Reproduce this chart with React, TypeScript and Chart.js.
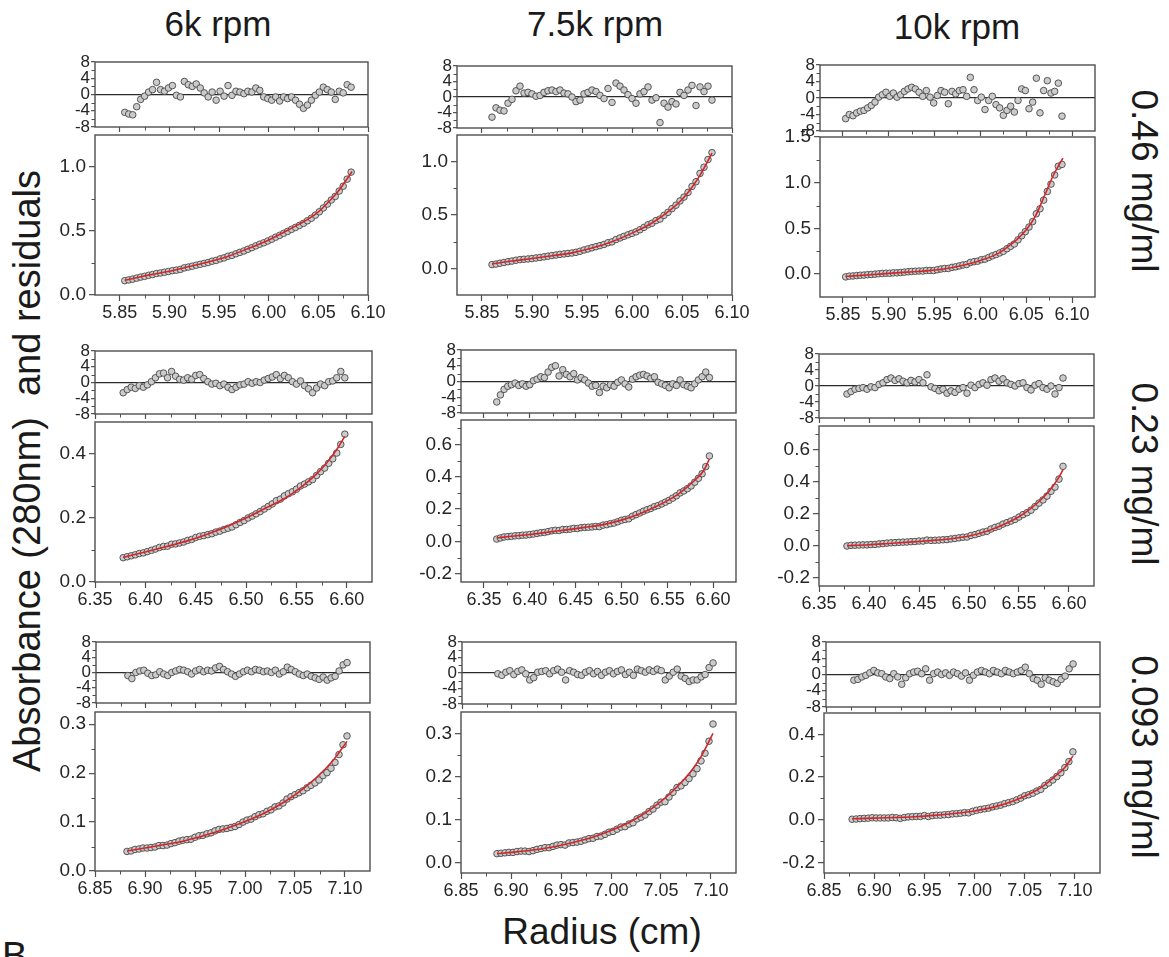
import React, { useEffect, useRef } from "react";
import { Chart, registerables } from "chart.js";

Chart.register(...registerables);

const FONT = '"Liberation Sans", Arial, Helvetica, sans-serif';

// ---------- tick labels ----------
const X_TICKS_ROW1 = [5.85, 5.9, 5.95, 6.0, 6.05, 6.1];
const X_MINOR_ROW1 = [5.875, 5.925, 5.975, 6.025, 6.075];
const X_TICKS_ROW2 = [6.35, 6.4, 6.45, 6.5, 6.55, 6.6];
const X_MINOR_ROW2 = [6.375, 6.425, 6.475, 6.525, 6.575];
const X_TICKS_ROW3 = [6.85, 6.9, 6.95, 7.0, 7.05, 7.1];
const X_MINOR_ROW3 = [6.875, 6.925, 6.975, 7.025, 7.075];
const RESID_TICKS = [-8, -4, 0, 4, 8];
const RESID_MINOR = [-6, -2, 2, 6];

const COLUMN_TITLES = ["6k rpm", "7.5k rpm", "10k rpm"];
const ROW_LABELS = ["0.46 mg/ml", "0.23 mg/ml", "0.093 mg/ml"];

// ---------- row 1 (0.46 mg/ml) ----------
const R1C1_RADIUS = [5.855, 5.859, 5.863, 5.867, 5.871, 5.875, 5.879, 5.883, 5.887, 5.891, 5.895, 5.899, 5.903, 5.907, 5.911, 5.915, 5.919, 5.923, 5.927, 5.931, 5.935, 5.939, 5.943, 5.947, 5.951, 5.955, 5.959, 5.963, 5.967, 5.971, 5.975, 5.979, 5.983, 5.987, 5.991, 5.995, 5.999, 6.003, 6.007, 6.011, 6.015, 6.019, 6.023, 6.027, 6.031, 6.035, 6.039, 6.043, 6.047, 6.051, 6.055, 6.059, 6.063, 6.067, 6.071, 6.075, 6.079, 6.083];
const R1C1_ABS = [0.112, 0.118, 0.124, 0.132, 0.14, 0.146, 0.154, 0.16, 0.168, 0.172, 0.178, 0.184, 0.19, 0.194, 0.2, 0.212, 0.218, 0.225, 0.233, 0.24, 0.247, 0.254, 0.264, 0.27, 0.282, 0.29, 0.303, 0.31, 0.322, 0.333, 0.344, 0.357, 0.37, 0.384, 0.397, 0.408, 0.422, 0.436, 0.452, 0.466, 0.482, 0.497, 0.513, 0.528, 0.544, 0.56, 0.58, 0.6, 0.624, 0.65, 0.68, 0.71, 0.742, 0.77, 0.812, 0.85, 0.905, 0.96];
const R1C1_RESID = [-4.4, -4.8, -5.0, -3.0, -1.2, -0.4, 0.6, 1.2, 3.0, 1.2, 0.8, 1.6, 2.2, -0.2, -0.6, 3.2, 2.4, 2.0, 2.6, 1.6, 0.4, -0.6, 0.6, -1.4, 0.8, -0.4, 2.2, -0.2, 0.8, 0.6, 0.2, 0.8, 0.6, 1.6, 1.0, -0.6, -1.0, -1.4, -0.6, -1.6, -0.6, -1.0, -0.6, -1.4, -2.4, -3.4, -2.6, -1.4, -0.2, 0.6, 1.8, 1.2, 0.6, -1.2, 0.8, 0.4, 2.4, 1.8];
const R1C1_FIT_RADIUS = [5.855, 5.87, 5.88, 5.9, 5.92, 5.94, 5.96, 5.98, 6.0, 6.02, 6.04, 6.05, 6.06, 6.07, 6.084];
const R1C1_FIT_ABS = [0.115, 0.14, 0.157, 0.185, 0.222, 0.26, 0.305, 0.365, 0.43, 0.51, 0.595, 0.65, 0.725, 0.81, 0.965];

const R1C2_RADIUS = [5.86, 5.864, 5.868, 5.872, 5.876, 5.88, 5.884, 5.888, 5.892, 5.896, 5.9, 5.904, 5.908, 5.912, 5.916, 5.92, 5.924, 5.928, 5.932, 5.936, 5.94, 5.944, 5.948, 5.952, 5.956, 5.96, 5.964, 5.968, 5.972, 5.976, 5.98, 5.984, 5.988, 5.992, 5.996, 6.0, 6.004, 6.008, 6.012, 6.016, 6.02, 6.024, 6.028, 6.032, 6.036, 6.04, 6.044, 6.048, 6.052, 6.056, 6.06, 6.064, 6.068, 6.072, 6.076, 6.08];
const R1C2_ABS = [0.035, 0.04, 0.048, 0.055, 0.062, 0.068, 0.076, 0.082, 0.085, 0.088, 0.092, 0.097, 0.102, 0.108, 0.114, 0.12, 0.125, 0.131, 0.135, 0.14, 0.144, 0.15, 0.16, 0.172, 0.182, 0.193, 0.203, 0.213, 0.224, 0.24, 0.248, 0.27, 0.285, 0.3, 0.314, 0.328, 0.342, 0.362, 0.384, 0.408, 0.423, 0.448, 0.462, 0.497, 0.525, 0.56, 0.592, 0.632, 0.668, 0.712, 0.768, 0.812, 0.89, 0.948, 1.02, 1.085];
const R1C2_RESID = [-5.2, -2.8, -3.4, -3.6, -1.6, -0.6, 1.6, 2.8, 1.0, 1.2, 0.8, 0.2, 0.4, 1.2, 1.6, 1.8, 1.4, 1.8, 1.0, 0.8, 0.0, -1.2, -0.8, 0.8, 1.2, 1.8, 1.4, 0.4, -0.4, 2.2, -1.4, 3.6, 2.8, 1.8, 0.6, -0.4, -1.6, 0.8, 1.4, 2.6, -0.8, -0.2, -6.6, -1.6, -2.6, -1.2, -1.8, 1.2, 0.4, 1.8, 3.0, -2.2, 2.6, 1.4, 2.8, -0.8];
const R1C2_FIT_RADIUS = [5.86, 5.88, 5.9, 5.92, 5.94, 5.96, 5.98, 6.0, 6.02, 6.04, 6.05, 6.06, 6.07, 6.08];
const R1C2_FIT_ABS = [0.04, 0.068, 0.092, 0.118, 0.145, 0.19, 0.25, 0.33, 0.425, 0.56, 0.645, 0.76, 0.905, 1.08];

const R1C3_RADIUS = [5.853, 5.857, 5.861, 5.865, 5.869, 5.873, 5.877, 5.881, 5.885, 5.889, 5.893, 5.897, 5.901, 5.905, 5.909, 5.913, 5.917, 5.921, 5.925, 5.929, 5.933, 5.937, 5.941, 5.945, 5.949, 5.953, 5.957, 5.961, 5.965, 5.969, 5.973, 5.977, 5.981, 5.985, 5.989, 5.993, 5.997, 6.001, 6.005, 6.009, 6.013, 6.017, 6.021, 6.025, 6.029, 6.033, 6.037, 6.041, 6.045, 6.049, 6.053, 6.057, 6.061, 6.065, 6.069, 6.073, 6.077, 6.081, 6.085, 6.089];
const R1C3_ABS = [-0.03, -0.022, -0.02, -0.016, -0.012, -0.01, -0.006, -0.004, 0.0, 0.004, 0.008, 0.01, 0.01, 0.014, 0.014, 0.018, 0.022, 0.026, 0.03, 0.032, 0.034, 0.034, 0.04, 0.04, 0.04, 0.048, 0.056, 0.062, 0.062, 0.074, 0.08, 0.09, 0.1, 0.106, 0.128, 0.136, 0.142, 0.158, 0.164, 0.182, 0.2, 0.214, 0.232, 0.25, 0.278, 0.305, 0.33, 0.375, 0.42, 0.465, 0.515, 0.575, 0.66, 0.715, 0.81, 0.905, 0.985, 1.085, 1.18, 1.2];
const R1C3_RESID = [-5.0, -4.0, -4.3, -3.6, -3.2, -3.0, -2.4, -1.8, -1.0, 0.2, 0.8, 1.4, 0.4, 1.2, 0.2, 0.8, 1.6, 2.2, 2.6, 2.2, 1.4, 0.4, 1.8, 0.2, -1.2, 0.6, 1.8, 1.4, -1.4, 1.6, 1.0, 1.8, 2.0, 0.4, 5.0, 2.0, -0.6, 0.2, -2.8, -0.6, 0.4, -1.6, -2.4, -4.2, -3.0, -2.0, -3.4, -0.6, 2.2, 1.8, -2.6, -1.0, 4.8, -3.6, 1.8, 4.2, 1.2, 1.6, 3.6, -4.4];
const R1C3_FIT_RADIUS = [5.853, 5.88, 5.9, 5.92, 5.94, 5.96, 5.98, 6.0, 6.02, 6.03, 6.04, 6.05, 6.06, 6.07, 6.08, 6.09];
const R1C3_FIT_ABS = [-0.025, -0.006, 0.008, 0.022, 0.036, 0.056, 0.095, 0.15, 0.23, 0.3, 0.38, 0.485, 0.635, 0.86, 1.09, 1.27];

// ---------- row 2 (0.23 mg/ml) ----------
const R2C1_RADIUS = [6.378, 6.382, 6.386, 6.39, 6.394, 6.398, 6.402, 6.406, 6.41, 6.414, 6.418, 6.422, 6.426, 6.43, 6.434, 6.438, 6.442, 6.446, 6.45, 6.454, 6.458, 6.462, 6.466, 6.47, 6.474, 6.478, 6.482, 6.486, 6.49, 6.494, 6.498, 6.502, 6.506, 6.51, 6.514, 6.518, 6.522, 6.526, 6.53, 6.534, 6.538, 6.542, 6.546, 6.55, 6.554, 6.558, 6.562, 6.566, 6.57, 6.574, 6.578, 6.582, 6.586, 6.59, 6.594, 6.598];
const R2C1_ABS = [0.076, 0.079, 0.082, 0.085, 0.089, 0.091, 0.095, 0.099, 0.103, 0.108, 0.111, 0.112, 0.118, 0.119, 0.122, 0.125, 0.13, 0.133, 0.139, 0.143, 0.145, 0.148, 0.151, 0.156, 0.159, 0.164, 0.168, 0.172, 0.179, 0.186, 0.192, 0.2, 0.206, 0.213, 0.22, 0.228, 0.236, 0.244, 0.254, 0.259, 0.269, 0.276, 0.282, 0.29, 0.3, 0.306, 0.313, 0.32, 0.333, 0.345, 0.356, 0.371, 0.385, 0.403, 0.43, 0.462];
const R2C1_RESID = [-2.6, -1.8, -1.2, -1.5, -0.8, -1.2, -0.6, 0.2, 1.2, 2.2, 2.4, 1.2, 2.8, 1.6, 0.8, 0.6, 1.2, 0.8, 1.8, 2.0, 1.0, 0.2, -0.4, -0.2, -0.8, -0.4, -1.2, -1.8, -1.2, -0.6, -0.4, 0.2, -0.2, 0.2, 0.0, 0.6, 1.0, 1.4, 2.0, 1.0, 1.8, 1.2, 0.2, -0.4, 0.4, -0.8, -1.6, -2.6, -1.4, -0.4, -0.8, 0.2, 0.4, 1.2, 2.8, 1.2];
const R2C1_FIT_RADIUS = [6.378, 6.4, 6.42, 6.44, 6.46, 6.48, 6.5, 6.52, 6.54, 6.55, 6.56, 6.57, 6.58, 6.59, 6.598];
const R2C1_FIT_ABS = [0.077, 0.094, 0.11, 0.127, 0.148, 0.172, 0.2, 0.232, 0.264, 0.286, 0.31, 0.338, 0.372, 0.414, 0.455];

const R2C2_RADIUS = [6.364, 6.368, 6.372, 6.376, 6.38, 6.384, 6.388, 6.392, 6.396, 6.4, 6.404, 6.408, 6.412, 6.416, 6.42, 6.424, 6.428, 6.432, 6.436, 6.44, 6.444, 6.448, 6.452, 6.456, 6.46, 6.464, 6.468, 6.472, 6.476, 6.48, 6.484, 6.488, 6.492, 6.496, 6.5, 6.504, 6.508, 6.512, 6.516, 6.52, 6.524, 6.528, 6.532, 6.536, 6.54, 6.544, 6.548, 6.552, 6.556, 6.56, 6.564, 6.568, 6.572, 6.576, 6.58, 6.584, 6.588, 6.592, 6.596];
const R2C2_ABS = [0.015, 0.022, 0.028, 0.03, 0.032, 0.035, 0.036, 0.039, 0.04, 0.043, 0.046, 0.05, 0.054, 0.056, 0.061, 0.066, 0.069, 0.068, 0.074, 0.074, 0.076, 0.081, 0.08, 0.085, 0.087, 0.088, 0.09, 0.093, 0.092, 0.101, 0.104, 0.11, 0.114, 0.122, 0.131, 0.136, 0.14, 0.156, 0.166, 0.176, 0.187, 0.196, 0.204, 0.215, 0.222, 0.232, 0.243, 0.254, 0.268, 0.282, 0.3, 0.312, 0.326, 0.343, 0.366, 0.39, 0.418, 0.462, 0.528];
const R2C2_RESID = [-5.2, -3.4, -2.0, -1.2, -0.8, -0.4, -1.0, -0.6, -1.2, -0.8, 0.2, 0.6, 1.2, 1.0, 2.4, 3.6, 4.0, 1.4, 3.0, 1.8, 1.2, 2.0, 0.4, 1.0, 0.4, -0.4, -1.2, -1.0, -2.8, -1.2, -1.6, -0.8, -1.2, -0.2, 0.4, -0.6, -1.4, 0.6, 1.2, 1.6, 1.8, 1.4, 0.8, 1.2, -0.2, -0.6, -1.0, -1.6, -0.6, -1.0, 0.4, -0.8, -1.2, -1.6, -0.6, 0.4, 1.2, 2.4, 1.0];
const R2C2_FIT_RADIUS = [6.364, 6.38, 6.4, 6.42, 6.44, 6.46, 6.48, 6.5, 6.52, 6.54, 6.56, 6.57, 6.58, 6.59, 6.596];
const R2C2_FIT_ABS = [0.022, 0.032, 0.043, 0.058, 0.072, 0.087, 0.104, 0.132, 0.172, 0.222, 0.285, 0.328, 0.378, 0.44, 0.51];

const R2C3_RADIUS = [6.378, 6.382, 6.386, 6.39, 6.394, 6.398, 6.402, 6.406, 6.41, 6.414, 6.418, 6.422, 6.426, 6.43, 6.434, 6.438, 6.442, 6.446, 6.45, 6.454, 6.458, 6.462, 6.466, 6.47, 6.474, 6.478, 6.482, 6.486, 6.49, 6.494, 6.498, 6.502, 6.506, 6.51, 6.514, 6.518, 6.522, 6.526, 6.53, 6.534, 6.538, 6.542, 6.546, 6.55, 6.554, 6.558, 6.562, 6.566, 6.57, 6.574, 6.578, 6.582, 6.586, 6.59, 6.594];
const R2C3_ABS = [0.0, 0.004, 0.005, 0.006, 0.007, 0.007, 0.009, 0.01, 0.013, 0.015, 0.018, 0.02, 0.021, 0.023, 0.024, 0.025, 0.027, 0.028, 0.031, 0.031, 0.037, 0.035, 0.036, 0.037, 0.039, 0.04, 0.044, 0.047, 0.051, 0.055, 0.056, 0.066, 0.071, 0.079, 0.087, 0.092, 0.106, 0.116, 0.124, 0.137, 0.146, 0.156, 0.166, 0.181, 0.196, 0.208, 0.224, 0.246, 0.268, 0.288, 0.312, 0.342, 0.368, 0.418, 0.498];
const R2C3_RESID = [-2.0, -1.4, -0.8, -0.6, -0.4, -0.8, -0.2, -0.4, 0.4, 0.8, 1.6, 2.0, 1.4, 1.8, 1.2, 0.8, 1.4, 1.0, 1.6, 0.8, 2.8, -0.2, -0.6, -1.2, -0.8, -1.8, -1.2, -1.6, -0.8, -0.4, -1.8, 0.2, -0.4, 0.4, 0.8, 0.2, 1.6, 2.0, 1.2, 1.8, 0.8, 0.4, 0.0, 0.6, 0.8, -0.4, -1.0, 0.2, 0.6, -0.4, -0.8, 0.0, -2.0, -0.4, 2.0];
const R2C3_FIT_RADIUS = [6.378, 6.4, 6.42, 6.44, 6.46, 6.48, 6.5, 6.52, 6.54, 6.55, 6.56, 6.57, 6.58, 6.59, 6.594];
const R2C3_FIT_ABS = [0.002, 0.008, 0.016, 0.024, 0.033, 0.044, 0.062, 0.097, 0.15, 0.183, 0.226, 0.278, 0.342, 0.43, 0.478];

// ---------- row 3 (0.093 mg/ml) ----------
const R3C1_RADIUS = [6.882, 6.886, 6.89, 6.894, 6.898, 6.902, 6.906, 6.91, 6.914, 6.918, 6.922, 6.926, 6.93, 6.934, 6.938, 6.942, 6.946, 6.95, 6.954, 6.958, 6.962, 6.966, 6.97, 6.974, 6.978, 6.982, 6.986, 6.99, 6.994, 6.998, 7.002, 7.006, 7.01, 7.014, 7.018, 7.022, 7.026, 7.03, 7.034, 7.038, 7.042, 7.046, 7.05, 7.054, 7.058, 7.062, 7.066, 7.07, 7.074, 7.078, 7.082, 7.086, 7.09, 7.094, 7.098, 7.102];
const R3C1_ABS = [0.04, 0.041, 0.044, 0.045, 0.047, 0.047, 0.048, 0.049, 0.052, 0.052, 0.053, 0.056, 0.058, 0.061, 0.063, 0.064, 0.065, 0.069, 0.072, 0.073, 0.076, 0.078, 0.082, 0.085, 0.086, 0.087, 0.089, 0.091, 0.095, 0.1, 0.104, 0.106, 0.111, 0.115, 0.117, 0.122, 0.125, 0.131, 0.133, 0.139, 0.147, 0.152, 0.156, 0.16, 0.164, 0.17, 0.175, 0.18, 0.186, 0.195, 0.201, 0.21, 0.222, 0.238, 0.258, 0.276];
const R3C1_RESID = [-0.8, -1.6, 0.0, 0.4, 0.6, -0.2, -0.8, -0.6, 0.2, -0.4, -0.8, 0.0, 0.4, 0.8, 0.6, 0.2, -0.4, 0.4, 0.8, 0.2, 0.6, 0.4, 1.2, 1.6, 0.8, 0.2, -0.4, -1.0, -0.4, 0.2, 0.6, 0.2, 0.8, 0.6, 0.2, 0.4, 0.0, 0.6, -0.4, 0.2, 1.4, 0.8, 0.2, -0.4, -0.8, -0.4, -1.0, -1.4, -1.8, -1.2, -2.0, -1.4, -1.0, 0.4, 2.0, 2.6];
const R3C1_FIT_RADIUS = [6.882, 6.9, 6.92, 6.94, 6.96, 6.98, 7.0, 7.02, 7.04, 7.06, 7.08, 7.09, 7.102];
const R3C1_FIT_ABS = [0.041, 0.047, 0.054, 0.062, 0.073, 0.086, 0.101, 0.119, 0.142, 0.171, 0.208, 0.231, 0.265];

const R3C2_RADIUS = [6.886, 6.89, 6.894, 6.898, 6.902, 6.906, 6.91, 6.914, 6.918, 6.922, 6.926, 6.93, 6.934, 6.938, 6.942, 6.946, 6.95, 6.954, 6.958, 6.962, 6.966, 6.97, 6.974, 6.978, 6.982, 6.986, 6.99, 6.994, 6.998, 7.002, 7.006, 7.01, 7.014, 7.018, 7.022, 7.026, 7.03, 7.034, 7.038, 7.042, 7.046, 7.05, 7.054, 7.058, 7.062, 7.066, 7.07, 7.074, 7.078, 7.082, 7.086, 7.09, 7.094, 7.098, 7.102];
const R3C2_ABS = [0.02, 0.021, 0.022, 0.023, 0.023, 0.025, 0.026, 0.026, 0.025, 0.027, 0.03, 0.032, 0.034, 0.034, 0.037, 0.04, 0.041, 0.04, 0.045, 0.046, 0.047, 0.049, 0.052, 0.055, 0.056, 0.06, 0.061, 0.065, 0.07, 0.072, 0.077, 0.082, 0.083, 0.089, 0.092, 0.101, 0.105, 0.11, 0.118, 0.124, 0.133, 0.14, 0.141, 0.152, 0.163, 0.174, 0.178, 0.186, 0.195, 0.206, 0.218, 0.236, 0.254, 0.282, 0.322];
const R3C2_RESID = [-0.2, -0.6, 0.2, 0.6, -0.4, 0.4, 0.8, -0.2, -1.8, -1.2, 0.2, 0.4, 0.6, -0.2, 0.6, 1.0, 0.2, -1.8, 0.6, 0.2, -0.4, -0.6, 0.2, 0.6, -0.2, 0.4, -0.6, 0.2, 0.6, -0.2, 0.4, 0.8, -0.4, 0.2, -0.6, 1.0, 0.6, 0.2, 0.8, 0.4, 1.0, 0.6, -1.8, -0.8, 0.2, 1.0, -0.8, -1.4, -2.2, -1.8, -1.8, -1.0, -0.4, 1.4, 2.6];
const R3C2_FIT_RADIUS = [6.886, 6.9, 6.92, 6.94, 6.96, 6.98, 7.0, 7.02, 7.04, 7.06, 7.08, 7.09, 7.102];
const R3C2_FIT_ABS = [0.02, 0.023, 0.028, 0.035, 0.045, 0.057, 0.074, 0.095, 0.124, 0.162, 0.212, 0.246, 0.3];

const R3C3_RADIUS = [6.878, 6.882, 6.886, 6.89, 6.894, 6.898, 6.902, 6.906, 6.91, 6.914, 6.918, 6.922, 6.926, 6.93, 6.934, 6.938, 6.942, 6.946, 6.95, 6.954, 6.958, 6.962, 6.966, 6.97, 6.974, 6.978, 6.982, 6.986, 6.99, 6.994, 6.998, 7.002, 7.006, 7.01, 7.014, 7.018, 7.022, 7.026, 7.03, 7.034, 7.038, 7.042, 7.046, 7.05, 7.054, 7.058, 7.062, 7.066, 7.07, 7.074, 7.078, 7.082, 7.086, 7.09, 7.094, 7.098];
const R3C3_ABS = [0.002, 0.003, 0.005, 0.006, 0.007, 0.009, 0.008, 0.008, 0.008, 0.008, 0.01, 0.009, 0.006, 0.01, 0.013, 0.014, 0.015, 0.015, 0.019, 0.015, 0.019, 0.021, 0.021, 0.023, 0.024, 0.027, 0.028, 0.03, 0.033, 0.032, 0.039, 0.044, 0.048, 0.051, 0.054, 0.06, 0.064, 0.068, 0.075, 0.08, 0.085, 0.093, 0.101, 0.112, 0.117, 0.124, 0.134, 0.142, 0.16, 0.172, 0.186, 0.202, 0.22, 0.244, 0.272, 0.318];
const R3C3_RESID = [-1.4, -1.2, -0.6, -0.2, 0.4, 1.0, 0.4, 0.2, -0.6, -1.0, 0.2, -0.6, -2.4, -0.8, 0.2, 0.6, 0.8, 0.2, 1.4, -1.4, 0.2, 0.6, 0.0, 0.4, -0.2, 0.6, 0.2, -0.4, 0.4, -1.4, -0.2, 0.6, 1.0, 0.6, 0.2, 1.0, 0.6, 0.2, 1.0, 0.6, 0.2, 0.6, 1.0, 1.8, 0.2, -1.0, -1.4, -2.4, -0.8, -1.4, -1.8, -2.2, -1.2, -0.4, 1.4, 2.6];
const R3C3_FIT_RADIUS = [6.878, 6.9, 6.92, 6.94, 6.96, 6.98, 7.0, 7.02, 7.04, 7.06, 7.07, 7.08, 7.09, 7.098];
const R3C3_FIT_ABS = [0.004, 0.007, 0.01, 0.014, 0.02, 0.029, 0.041, 0.06, 0.09, 0.133, 0.163, 0.203, 0.245, 0.298];

// ---------- panel layout ----------
type Box = [number, number, number, number]; // left, right, top, bottom

interface PlotSpec {
  key: string;
  kind: "main" | "resid";
  box: Box;
  xRange: [number, number];
  xTicks: number[];
  xMinor: number[];
  yRange: [number, number];
  yTicks: number[];
  yMinor: number[];
  radius: number[];
  values: number[];
  fitRadius?: number[];
  fitValues?: number[];
}

interface PanelDef {
  key: string;
  residBox: Box;
  mainBox: Box;
  xRange: [number, number];
  xTicks: number[];
  xMinor: number[];
  yRange: [number, number];
  yTicks: number[];
  yMinor: number[];
  radius: number[];
  abs: number[];
  resid: number[];
  fitRadius: number[];
  fitAbs: number[];
}

const PANELS: PanelDef[] = [
  { key: "r1c1", residBox: [95, 368, 62, 127], mainBox: [95, 368, 135, 295], xRange: [5.825, 6.1], xTicks: X_TICKS_ROW1, xMinor: X_MINOR_ROW1, yRange: [0, 1.25], yTicks: [0, 0.5, 1.0], yMinor: [0.25, 0.75], radius: R1C1_RADIUS, abs: R1C1_ABS, resid: R1C1_RESID, fitRadius: R1C1_FIT_RADIUS, fitAbs: R1C1_FIT_ABS },
  { key: "r1c2", residBox: [457, 732, 66, 128], mainBox: [457, 732, 135, 295], xRange: [5.825, 6.1], xTicks: X_TICKS_ROW1, xMinor: X_MINOR_ROW1, yRange: [-0.25, 1.25], yTicks: [0, 0.5, 1.0], yMinor: [0.25, 0.75], radius: R1C2_RADIUS, abs: R1C2_ABS, resid: R1C2_RESID, fitRadius: R1C2_FIT_RADIUS, fitAbs: R1C2_FIT_ABS },
  { key: "r1c3", residBox: [820, 1095, 65, 131], mainBox: [820, 1095, 137, 297], xRange: [5.825, 6.125], xTicks: X_TICKS_ROW1, xMinor: X_MINOR_ROW1, yRange: [-0.25, 1.5], yTicks: [0, 0.5, 1.0, 1.5], yMinor: [0.25, 0.75, 1.25], radius: R1C3_RADIUS, abs: R1C3_ABS, resid: R1C3_RESID, fitRadius: R1C3_FIT_RADIUS, fitAbs: R1C3_FIT_ABS },
  { key: "r2c1", residBox: [95, 372, 351, 414], mainBox: [95, 372, 422, 582], xRange: [6.35, 6.625], xTicks: X_TICKS_ROW2, xMinor: X_MINOR_ROW2, yRange: [0, 0.5], yTicks: [0, 0.2, 0.4], yMinor: [0.1, 0.3], radius: R2C1_RADIUS, abs: R2C1_ABS, resid: R2C1_RESID, fitRadius: R2C1_FIT_RADIUS, fitAbs: R2C1_FIT_ABS },
  { key: "r2c2", residBox: [461, 736, 350, 413], mainBox: [461, 736, 420, 582], xRange: [6.325, 6.625], xTicks: X_TICKS_ROW2, xMinor: X_MINOR_ROW2, yRange: [-0.25, 0.75], yTicks: [-0.2, 0, 0.2, 0.4, 0.6], yMinor: [-0.1, 0.1, 0.3, 0.5, 0.7], radius: R2C2_RADIUS, abs: R2C2_ABS, resid: R2C2_RESID, fitRadius: R2C2_FIT_RADIUS, fitAbs: R2C2_FIT_ABS },
  { key: "r2c3", residBox: [819, 1094, 354, 418], mainBox: [819, 1094, 426, 586], xRange: [6.35, 6.625], xTicks: X_TICKS_ROW2, xMinor: X_MINOR_ROW2, yRange: [-0.25, 0.75], yTicks: [-0.2, 0, 0.2, 0.4, 0.6], yMinor: [-0.1, 0.1, 0.3, 0.5, 0.7], radius: R2C3_RADIUS, abs: R2C3_ABS, resid: R2C3_RESID, fitRadius: R2C3_FIT_RADIUS, fitAbs: R2C3_FIT_ABS },
  { key: "r3c1", residBox: [96, 370, 642, 703], mainBox: [95, 370, 712, 871], xRange: [6.85, 7.125], xTicks: X_TICKS_ROW3, xMinor: X_MINOR_ROW3, yRange: [0, 0.325], yTicks: [0, 0.1, 0.2, 0.3], yMinor: [0.05, 0.15, 0.25], radius: R3C1_RADIUS, abs: R3C1_ABS, resid: R3C1_RESID, fitRadius: R3C1_FIT_RADIUS, fitAbs: R3C1_FIT_ABS },
  { key: "r3c2", residBox: [462, 736, 642, 704], mainBox: [461, 736, 712, 873], xRange: [6.85, 7.125], xTicks: X_TICKS_ROW3, xMinor: X_MINOR_ROW3, yRange: [-0.025, 0.35], yTicks: [0, 0.1, 0.2, 0.3], yMinor: [0.05, 0.15, 0.25], radius: R3C2_RADIUS, abs: R3C2_ABS, resid: R3C2_RESID, fitRadius: R3C2_FIT_RADIUS, fitAbs: R3C2_FIT_ABS },
  { key: "r3c3", residBox: [826, 1100, 642, 707], mainBox: [824, 1100, 713, 873], xRange: [6.85, 7.125], xTicks: X_TICKS_ROW3, xMinor: X_MINOR_ROW3, yRange: [-0.25, 0.5], yTicks: [-0.2, 0, 0.2, 0.4], yMinor: [-0.1, 0.1, 0.3], radius: R3C3_RADIUS, abs: R3C3_ABS, resid: R3C3_RESID, fitRadius: R3C3_FIT_RADIUS, fitAbs: R3C3_FIT_ABS },
];

const PLOTS: PlotSpec[] = PANELS.flatMap((p) => [
  {
    key: p.key + "-resid", kind: "resid" as const, box: p.residBox,
    xRange: p.xRange, xTicks: p.xTicks, xMinor: p.xMinor,
    yRange: [-8, 8] as [number, number], yTicks: RESID_TICKS, yMinor: RESID_MINOR,
    radius: p.radius, values: p.resid,
  },
  {
    key: p.key + "-main", kind: "main" as const, box: p.mainBox,
    xRange: p.xRange, xTicks: p.xTicks, xMinor: p.xMinor,
    yRange: p.yRange, yTicks: p.yTicks, yMinor: p.yMinor,
    radius: p.radius, values: p.abs, fitRadius: p.fitRadius, fitValues: p.fitAbs,
  },
]);

const AXIS = "#4f4f4f";
const LABEL = "#262626";

function framePlugin(xMinor: number[], yMinor: number[]) {
  return {
    id: "frameAndMinor",
    afterDraw(chart: any) {
      const { ctx, chartArea: a, scales } = chart;
      ctx.save();
      ctx.strokeStyle = AXIS;
      ctx.lineWidth = 1.4;
      ctx.strokeRect(a.left, a.top, a.right - a.left, a.bottom - a.top);
      ctx.lineWidth = 1;
      ctx.beginPath();
      xMinor.forEach((v) => {
        const px = Math.round(scales.x.getPixelForValue(v)) + 0.5;
        ctx.moveTo(px, a.bottom);
        ctx.lineTo(px, a.bottom + 3.5);
      });
      yMinor.forEach((v) => {
        const py = Math.round(scales.y.getPixelForValue(v)) + 0.5;
        ctx.moveTo(a.left - 3.5, py);
        ctx.lineTo(a.left, py);
      });
      ctx.stroke();
      ctx.restore();
    },
  };
}

function Plot({ spec }: { spec: PlotSpec }) {
  const ref = useRef<HTMLCanvasElement | null>(null);
  const isMain = spec.kind === "main";
  const YW = isMain ? 54 : 40;
  const XH = isMain ? 30 : 11;
  const PT = 12;
  const PR = 24;
  const [l, r, t, b] = spec.box;
  const w = r - l + YW + PR;
  const h = b - t + PT + XH;

  useEffect(() => {
    const canvas = ref.current;
    if (!canvas) return;
    const datasets: any[] = [];
    if (spec.fitRadius && spec.fitValues) {
      const fv = spec.fitValues;
      datasets.push({
        data: spec.fitRadius.map((x, i) => ({ x, y: fv[i] })),
        showLine: true,
        borderColor: "#d3262a",
        borderWidth: 1.6,
        pointRadius: 0,
        cubicInterpolationMode: "monotone",
        fill: false,
      });
    }
    datasets.push({
      data: spec.radius.map((x, i) => ({ x, y: spec.values[i] })),
      showLine: false,
      pointRadius: 3.3,
      backgroundColor: "#cbcbcb",
      pointBackgroundColor: "#cbcbcb",
      borderColor: "#474747",
      pointBorderColor: "#474747",
      pointBorderWidth: 0.9,
    });

    const chart = new Chart(canvas, {
      type: "scatter",
      data: { datasets },
      options: {
        responsive: false,
        animation: false,
        events: [],
        layout: { padding: { top: PT, right: PR, left: 0, bottom: 0 } },
        plugins: { legend: { display: false }, tooltip: { enabled: false } },
        scales: {
          x: {
            type: "linear",
            position: "bottom",
            min: spec.xRange[0],
            max: spec.xRange[1],
            afterBuildTicks: (s: any) => {
              s.ticks = spec.xTicks.map((v) => ({ value: v }));
            },
            afterFit: (s: any) => {
              s.height = XH;
              s.paddingLeft = 0;
              s.paddingRight = 0;
            },
            ticks: {
              display: isMain,
              autoSkip: false,
              maxRotation: 0,
              minRotation: 0,
              padding: 1,
              color: LABEL,
              font: { family: FONT, size: 18 },
              callback: (v: any) => Number(v).toFixed(2),
            },
            grid: {
              display: true,
              drawOnChartArea: false,
              drawTicks: true,
              tickLength: isMain ? 6 : 5,
              tickColor: AXIS,
              tickWidth: 1.2,
            },
            border: { display: false },
          },
          y: {
            type: "linear",
            min: spec.yRange[0],
            max: spec.yRange[1],
            afterBuildTicks: (s: any) => {
              s.ticks = spec.yTicks.map((v) => ({ value: v }));
            },
            afterFit: (s: any) => {
              s.width = YW;
              s.paddingTop = 0;
              s.paddingBottom = 0;
            },
            ticks: {
              autoSkip: false,
              padding: isMain ? 3 : 1,
              color: LABEL,
              font: { family: FONT, size: isMain ? 19 : 17 },
              callback: (v: any) => (isMain ? Number(v).toFixed(1) : String(Math.round(Number(v)))),
            },
            grid: {
              display: true,
              drawOnChartArea: !isMain,
              drawTicks: true,
              tickLength: isMain ? 6 : 4,
              tickColor: AXIS,
              tickWidth: 1.2,
              lineWidth: 1.3,
              color: (ctx: any) => (ctx.tick && ctx.tick.value === 0 ? "#2a2a2a" : "rgba(0,0,0,0)"),
            },
            border: { display: false },
          },
        },
      },
      plugins: [framePlugin(spec.xMinor, spec.yMinor)],
    } as any);
    return () => chart.destroy();
  }, [spec]);

  return (
    <canvas
      ref={ref}
      width={w}
      height={h}
      style={{ position: "absolute", left: l - YW, top: t - PT, width: w, height: h }}
    />
  );
}

const TITLE_CENTERS = [218, 595, 957];
const TITLE_TOPS = [4, 4, 7];
const ROW_LABEL_CENTERS = [181, 474, 757];

export default function App() {
  const textBase: React.CSSProperties = {
    position: "absolute",
    fontFamily: FONT,
    color: "#1a1a1a",
    whiteSpace: "pre",
    textAlign: "center",
  };
  return (
    <div
      style={{
        position: "absolute",
        left: 0,
        top: 0,
        width: 1169,
        height: 957,
        overflow: "hidden",
        background: "#ffffff",
        fontFamily: FONT,
      }}
    >
      {COLUMN_TITLES.map((tt, i) => (
        <div
          key={tt}
          style={{ ...textBase, left: TITLE_CENTERS[i] - 150, top: TITLE_TOPS[i], width: 300, height: 40, lineHeight: "40px", fontSize: 35 }}
        >
          {tt}
        </div>
      ))}
      {ROW_LABELS.map((tt, i) => (
        <div
          key={tt}
          style={{ ...textBase, left: 1144 - 150, top: ROW_LABEL_CENTERS[i] - 22, width: 300, height: 44, lineHeight: "44px", fontSize: 37, transform: "rotate(90deg)" }}
        >
          {tt}
        </div>
      ))}
      <div
        style={{ ...textBase, left: 27 - 360, top: 471 - 22, width: 720, height: 44, lineHeight: "44px", fontSize: 38, transform: "rotate(-90deg)" }}
      >
        {"Absorbance (280nm)  and residuals"}
      </div>
      <div style={{ ...textBase, left: 602 - 200, top: 910, width: 400, height: 44, lineHeight: "44px", fontSize: 37 }}>
        Radius (cm)
      </div>
      <div style={{ ...textBase, left: 2, top: 934, width: 40, height: 44, lineHeight: "44px", fontSize: 38, textAlign: "left" }}>
        B
      </div>
      {PLOTS.map((p) => (
        <Plot key={p.key} spec={p} />
      ))}
    </div>
  );
}
